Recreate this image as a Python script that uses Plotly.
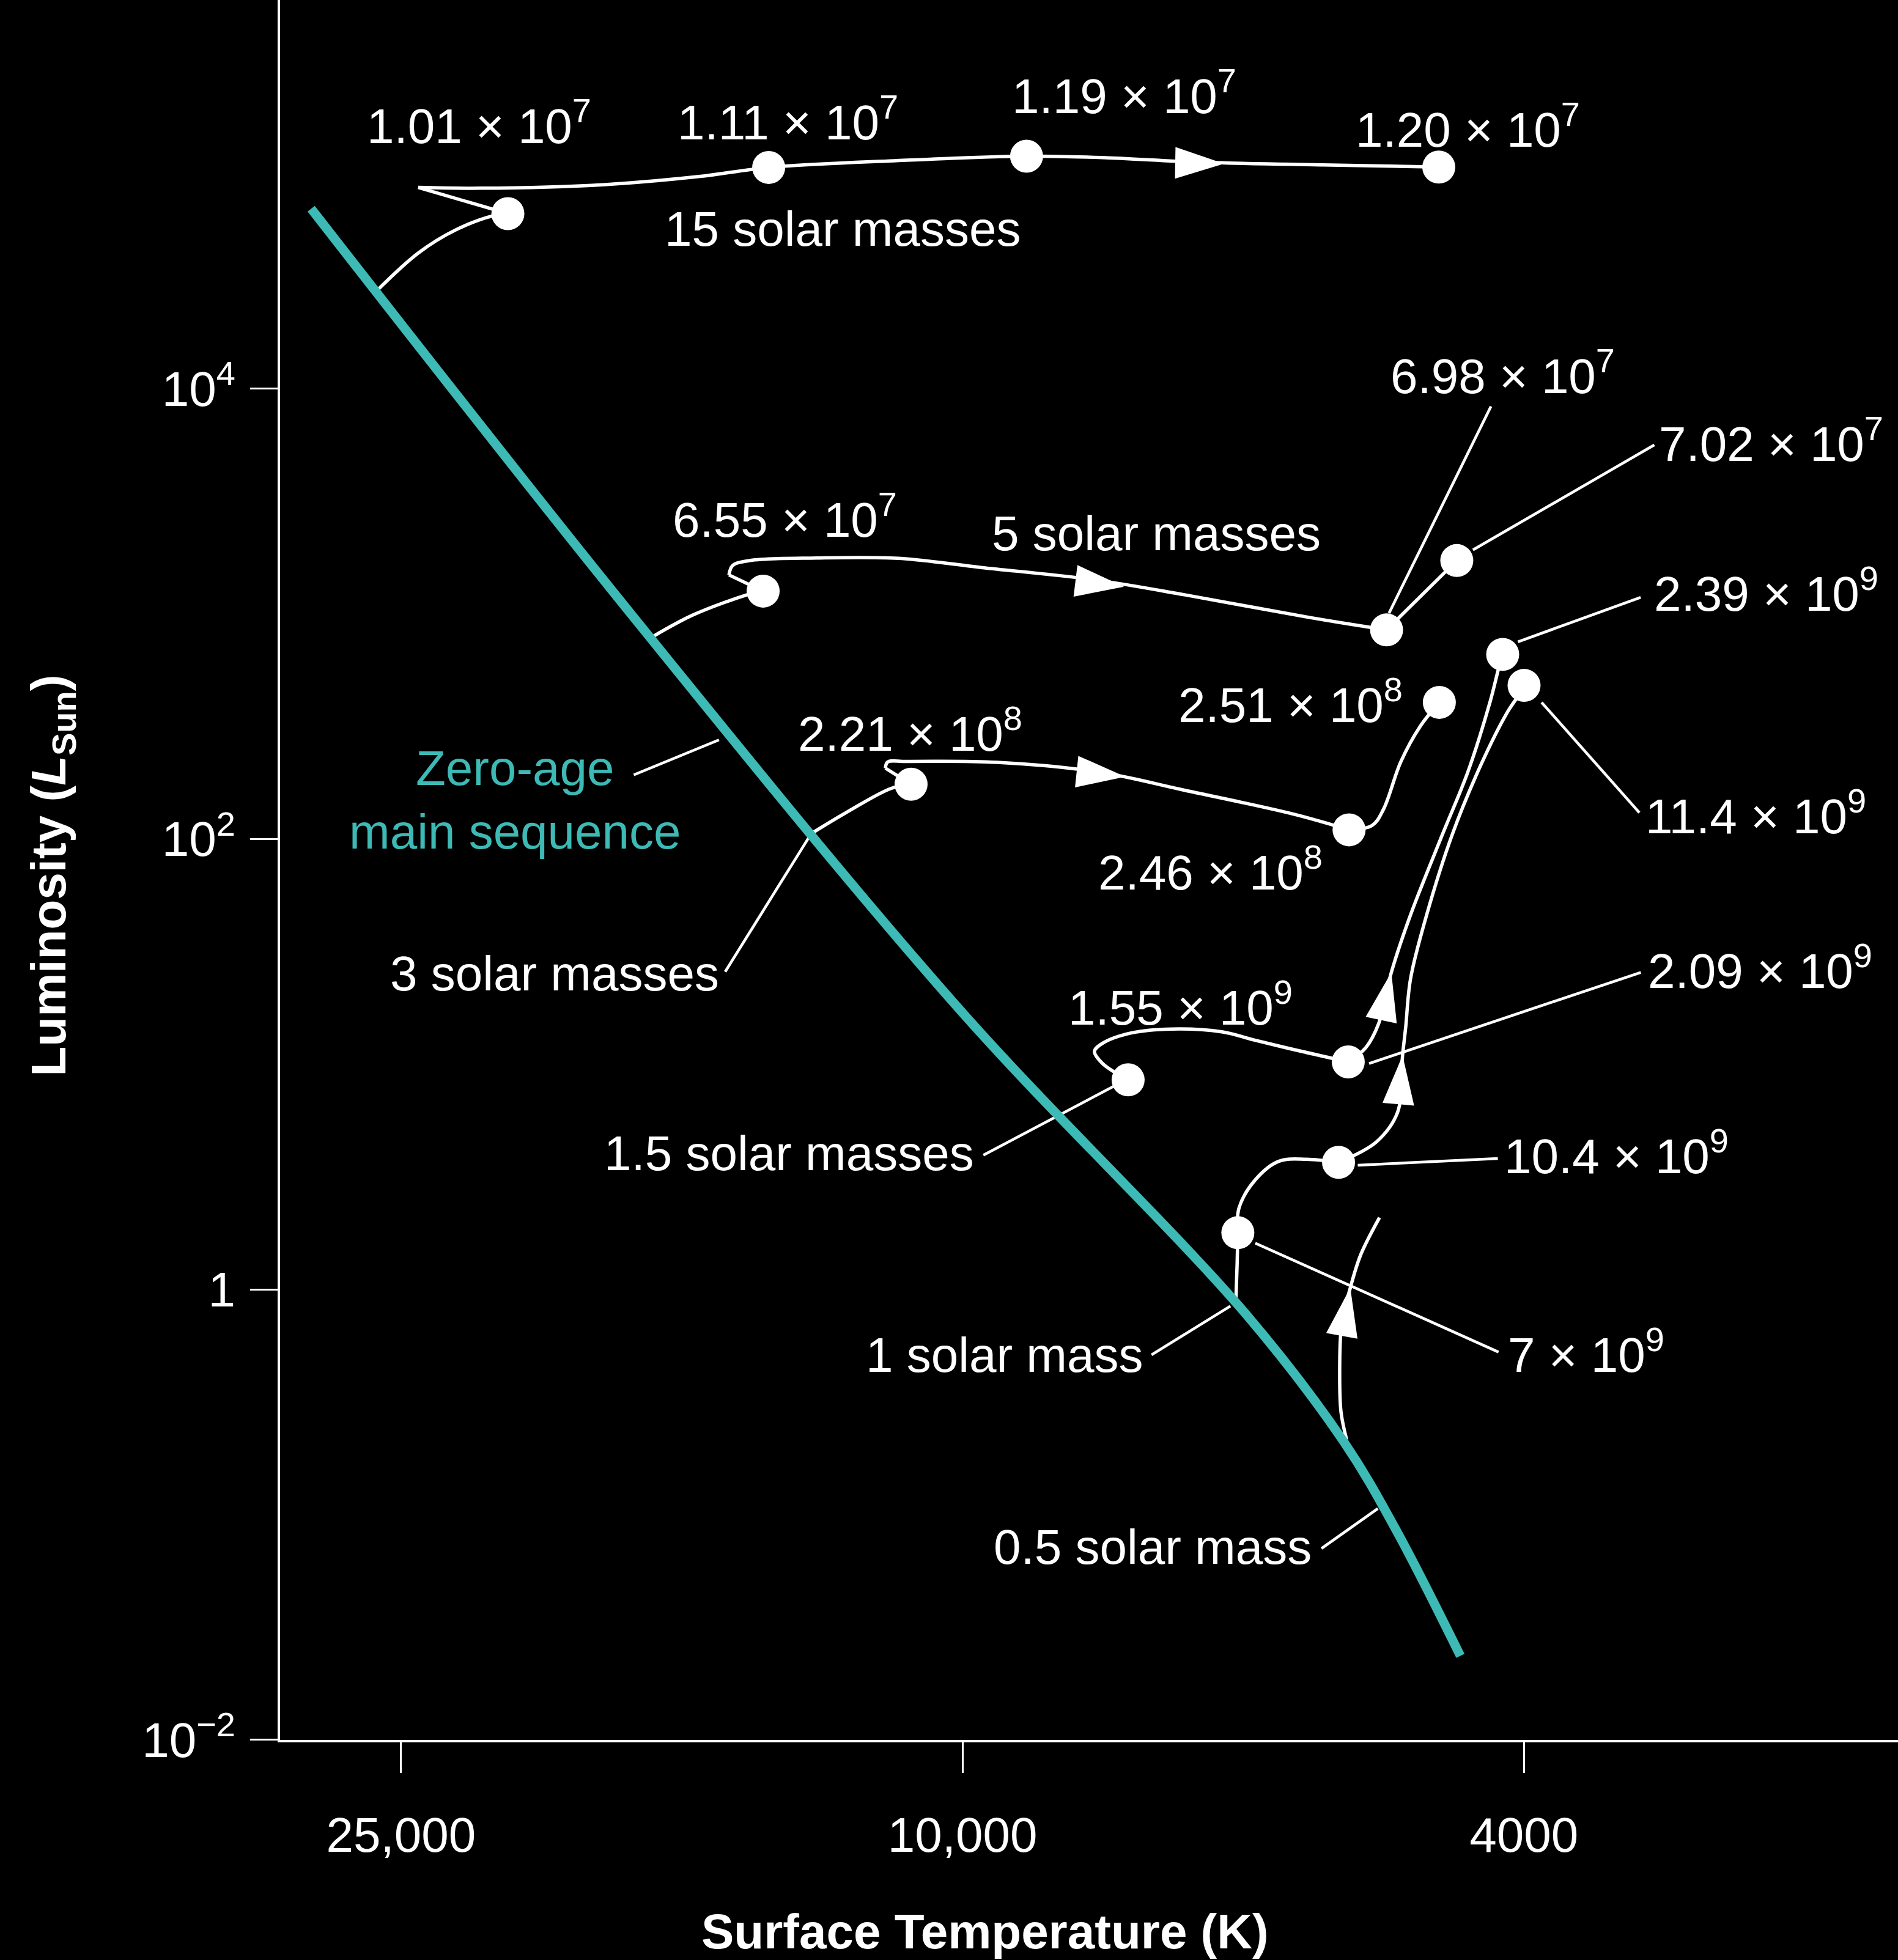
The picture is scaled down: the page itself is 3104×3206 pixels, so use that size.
import math
import plotly.graph_objects as go

FONT = "Liberation Sans, Arial, Helvetica, sans-serif"
WHITE = "#ffffff"
TEAL = "#3dbab5"

# ---------------- data (temperature in K, luminosity in L_sun) ----------------
x_tick_vals = [25000, 10000, 4000]
x_tick_text = ["25,000", "10,000", "4000"]
y_tick_vals = [1e4, 1e2, 1, 1e-2]
y_tick_text = ["10<sup>4</sup>", "10<sup>2</sup>", "1", "10<sup>\u22122</sup>"]

zams_temp = [28950, 17240, 10060, 6301, 5364, 4934, 4437]
zams_lum = [63000, 1028, 17.67, 0.781, 0.2096, 0.0867, 0.0236]

# 15 solar masses
m15_a_temp = [26030, 24310, 22870, 21510, 21000]
m15_a_lum = [27100, 40030, 50700, 58660, 59900]
m15_b_temp = [21000, 24310]
m15_b_lum = [59900, 78300]
m15_c_temp = [24310, 21950, 17920, 15380, 13720, 11180, 9007, 7880, 6850, 5554, 4596]
m15_c_lum = [78300, 77700, 80650, 87500, 96050, 102900, 107800, 106000, 101600, 98540, 96430]

# 5 solar masses
m5_a_temp = [16590, 15520, 14125, 13845]
m5_a_lum = [790.4, 989.7, 1230, 1262]
m5_b_temp = [13845, 14640]
m5_b_lum = [1262, 1490]
m5_c_temp = [14640, 14550, 14140, 12690, 11100, 9705, 8052, 6951, 5680, 5005]
m5_c_lum = [1490, 1640, 1726, 1771, 1764, 1608, 1415, 1214, 964.7, 848.9]
m5_d_temp = [5005, 4463]
m5_d_lum = [848.9, 1726]

# 3 solar masses
m3_a_temp = [12800, 12100, 11240, 10875]
m3_a_lum = [105.7, 130.7, 167.7, 175.2]
m3_b_temp = [10875, 11340]
m3_b_lum = [175.2, 206.5]
m3_c_temp = [11340, 11300, 10960, 9447, 7979, 6979, 5821, 5321]
m3_c_lum = [206.5, 219.9, 221.1, 219.1, 197.8, 165.4, 128.9, 109.9]
m3_d_temp = [5321, 5125, 5031, 4889, 4738, 4592]
m3_d_lum = [109.9, 114.9, 135.3, 221.1, 316.5, 404.6]

# 1.5 solar masses
m15s_a_temp = [7631, 7955, 8062, 7955, 7593, 7105, 6539, 6219, 5762, 5328]
m15s_a_lum = [8.527, 10.07, 11.41, 12.40, 13.77, 14.34, 13.91, 12.83, 11.44, 10.24]
m15s_b_temp = [5328, 5177, 5070, 4966, 4813, 4570, 4381, 4225, 4169, 4141]
m15s_b_lum = [10.24, 11.86, 15.16, 25.59, 46.06, 104.4, 200.3, 411.4, 571.2, 661.0]

# 1 solar mass
m1_a_temp = [6400, 6387, 6380]
m1_a_lum = [0.899, 1.319, 1.786]
m1_b_temp = [6380, 6368, 6201, 5969, 5704, 5413]
m1_b_lum = [1.786, 2.298, 3.067, 3.706, 3.787, 3.668]
m1_c_temp = [5413, 5088, 4916, 4876, 4851, 4813, 4688, 4497, 4290, 4115, 4031, 3999]
m1_c_lum = [3.668, 4.524, 6.115, 10.93, 14.64, 23.95, 46.06, 104.4, 214.1, 360.6, 439.1, 481.4]

# 0.5 solar mass
m05_temp = [5342, 5391, 5403, 5386, 5310, 5221, 5063]
m05_lum = [0.2150, 0.2848, 0.4177, 0.6965, 1.017, 1.424, 2.085]

# age dots
dot_temp = [21000, 13720, 9007, 4596, 13845, 5005, 4463, 10875, 5321, 4592,
            7631, 5328, 4141, 6380, 5413, 3999]
dot_lum = [59900, 96050, 107800, 96430, 1262, 848.9, 1726, 175.2, 109.9, 404.6,
           8.527, 10.24, 661.0, 1.786, 3.668, 481.4]

# direction arrows (tip position, heading in degrees clockwise from up)
arrow_temp = [6525, 7683, 7667, 4966, 4876, 5310]
arrow_lum = [99800, 1319, 189.1, 25.59, 10.93, 1.017]
arrow_angle = [91, 97, 96, 12, 5, 10]

# leader lines: start and end
leader_t1 = [17100, 14730, 9665, 7345, 5566, 4221, 3233, 3306, 3886, 5150, 5246, 6201]
leader_l1 = [192.8, 25.76, 3.946, 0.5125, 0.07071, 8342, 5628, 1184, 404.6, 10.07, 3.562, 1.605]
leader_t2 = [14880, 12800, 7778, 6458, 5077, 4985, 4347, 4039, 3313, 3305, 4174, 4169]
leader_l2 = [275.7, 105.7, 8.102, 0.8437, 0.1064, 1008, 1924, 751.8, 131.1, 25.59, 3.812, 0.5271]

# age labels (years)
age_text = ["1.01 \u00d7 10<sup>7</sup>", "1.11 \u00d7 10<sup>7</sup>", "1.19 \u00d7 10<sup>7</sup>",
            "1.20 \u00d7 10<sup>7</sup>", "6.98 \u00d7 10<sup>7</sup>", "7.02 \u00d7 10<sup>7</sup>",
            "6.55 \u00d7 10<sup>7</sup>", "2.39 \u00d7 10<sup>9</sup>", "2.51 \u00d7 10<sup>8</sup>",
            "2.21 \u00d7 10<sup>8</sup>", "11.4 \u00d7 10<sup>9</sup>", "2.46 \u00d7 10<sup>8</sup>",
            "2.09 \u00d7 10<sup>9</sup>", "1.55 \u00d7 10<sup>9</sup>", "10.4 \u00d7 10<sup>9</sup>",
            "7 \u00d7 10<sup>9</sup>"]
age_temp = [22020, 13300, 7683, 4383, 4140, 3214, 13360, 3240, 4864, 10890, 3287, 6674,
            3273, 7008, 4140, 4115]
age_lum = [152200, 158100, 206800, 146500, 11810, 5923, 2716, 1278, 409.9, 305.4, 131.4,
           73.94, 26.93, 18.59, 4.064, 0.5326]
age_anchor = ["center", "center", "center", "center", "center", "left", "center", "left",
              "right", "center", "left", "center", "left", "center", "left", "left"]

# mass labels
mass_text = ["15 solar masses", "5 solar masses", "3 solar masses", "1.5 solar masses",
             "1 solar mass", "0.5 solar mass"]
mass_temp = [12160, 7285, 14850, 9795, 7435, 5646]
mass_lum = [51360, 2272, 25.27, 4.012, 0.5125, 0.07161]
mass_anchor = ["center", "center", "right", "right", "right", "right"]

zams_text = "Zero-age<br>main sequence"
zams_label_temp = 20760
zams_label_lum = 149.3

# ---------------- figure ----------------
fig = go.Figure()

# leader lines
lx, ly = [], []
for t1, l1, t2, l2 in zip(leader_t1, leader_l1, leader_t2, leader_l2):
    lx += [t1, t2, None]
    ly += [l1, l2, None]
fig.add_trace(go.Scatter(x=lx, y=ly, mode="lines",
                         line=dict(color=WHITE, width=4.5), hoverinfo="skip"))

segments = [
    (m15_a_temp, m15_a_lum, "spline"), (m15_b_temp, m15_b_lum, "linear"),
    (m15_c_temp, m15_c_lum, "spline"),
    (m5_a_temp, m5_a_lum, "spline"), (m5_b_temp, m5_b_lum, "linear"),
    (m5_c_temp, m5_c_lum, "spline"), (m5_d_temp, m5_d_lum, "linear"),
    (m3_a_temp, m3_a_lum, "spline"), (m3_b_temp, m3_b_lum, "linear"),
    (m3_c_temp, m3_c_lum, "spline"), (m3_d_temp, m3_d_lum, "spline"),
    (m15s_a_temp, m15s_a_lum, "spline"), (m15s_b_temp, m15s_b_lum, "spline"),
    (m1_a_temp, m1_a_lum, "spline"), (m1_b_temp, m1_b_lum, "spline"),
    (m1_c_temp, m1_c_lum, "spline"),
    (m05_temp, m05_lum, "spline"),
]
for tt, ll, shape in segments:
    fig.add_trace(go.Scatter(x=tt, y=ll, mode="lines",
                             line=dict(color=WHITE, width=5.5, shape=shape, smoothing=1.0),
                             hoverinfo="skip"))

# zero-age main sequence
fig.add_trace(go.Scatter(x=zams_temp, y=zams_lum, mode="lines",
                         line=dict(color=TEAL, width=15, shape="spline", smoothing=1.0),
                         hoverinfo="skip"))

# dots
fig.add_trace(go.Scatter(x=dot_temp, y=dot_lum, mode="markers",
                         marker=dict(symbol="circle", size=54, color=WHITE,
                                     line=dict(width=0)),
                         hoverinfo="skip"))

# arrows
fig.add_trace(go.Scatter(x=arrow_temp, y=arrow_lum, mode="markers",
                         marker=dict(symbol="arrow", size=84, color=WHITE,
                                     angle=arrow_angle, line=dict(width=0)),
                         hoverinfo="skip"))

annotations = []
for txt, t, l, a in zip(age_text, age_temp, age_lum, age_anchor):
    annotations.append(dict(x=math.log10(t), y=math.log10(l), xref="x", yref="y",
                            text=txt, showarrow=False, xanchor=a, yanchor="middle",
                            font=dict(family=FONT, size=80, color=WHITE)))
for txt, t, l, a in zip(mass_text, mass_temp, mass_lum, mass_anchor):
    annotations.append(dict(x=math.log10(t), y=math.log10(l), xref="x", yref="y",
                            text=txt, showarrow=False, xanchor=a, yanchor="middle",
                            font=dict(family=FONT, size=80, color=WHITE)))
annotations.append(dict(x=math.log10(zams_label_temp), y=math.log10(zams_label_lum),
                        xref="x", yref="y", text=zams_text, showarrow=False,
                        xanchor="center", yanchor="middle", align="center",
                        font=dict(family=FONT, size=80, color=TEAL)))
# axis titles
annotations.append(dict(x=-0.1406, y=0.497, xref="paper", yref="paper",
                        text="<b>Luminosity (<i>L</i><sub>Sun</sub>)</b>", textangle=-90,
                        showarrow=False, xanchor="center", yanchor="middle",
                        font=dict(family=FONT, size=80, color=WHITE)))
annotations.append(dict(x=0.4358, y=-0.110, xref="paper", yref="paper",
                        text="<b>Surface Temperature (K)</b>",
                        showarrow=False, xanchor="center", yanchor="middle",
                        font=dict(family=FONT, size=80, color=WHITE)))

axis_common = dict(type="log", showgrid=False, zeroline=False, showline=True,
                   linecolor=WHITE, linewidth=4, ticks="outside", tickwidth=3,
                   tickcolor=WHITE, tickfont=dict(family=FONT, size=80, color=WHITE))

fig.update_layout(
    width=3104, height=3206, autosize=False,
    margin=dict(l=458, r=0, t=0, b=360, pad=0),
    paper_bgcolor="black", plot_bgcolor="black",
    showlegend=False, hovermode=False,
    font=dict(family=FONT, size=80, color=WHITE),
    xaxis=dict(range=[4.4837, 3.3369], tickvals=x_tick_vals, ticktext=x_tick_text,
               ticklen=50, ticklabelstandoff=33, **axis_common),
    yaxis=dict(range=[-2.0005, 5.7262], tickvals=y_tick_vals, ticktext=y_tick_text,
               ticklen=45, ticklabelstandoff=8, **axis_common),
    annotations=annotations,
)

page_fix = ("document.body.style.margin='0';document.body.style.padding='0';"
            "document.body.style.background='black';"
            "document.documentElement.style.background='black';")
fig.write_html("out.html", post_script=page_fix, config={"displayModeBar": False})
